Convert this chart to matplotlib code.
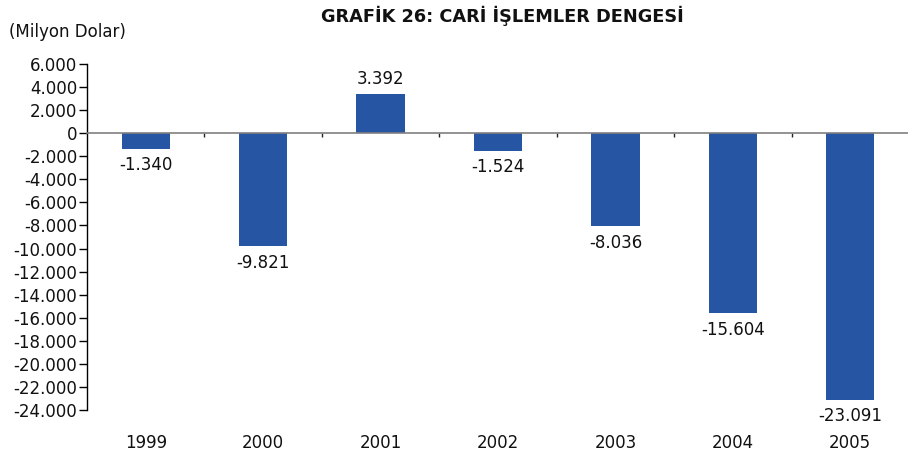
import numpy as np
import matplotlib
matplotlib.use("Agg")
import matplotlib.pyplot as plt
import matplotlib.transforms as mtransforms

# Current account balance, million USD
years = ["1999", "2000", "2001", "2002", "2003", "2004", "2005"]
balance = [-1340, -9821, 3392, -1524, -8036, -15604, -23091]
yticks = list(range(-24000, 6001, 2000))

plt.rcParams['font.family'] = ['DejaVu Sans']
FS = 12

def tr_fmt(v):
    return f"{v:,}".replace(",", ".")

fig = plt.figure(figsize=(9.08, 4.58), dpi=100)
ax = fig.add_axes([87 / 908, 1 - 410 / 458, 822 / 908, 346 / 458])

x = np.arange(len(years))
ax.bar(x, balance, width=0.41, color="#2656a3", zorder=1)

ax.set_xlim(-0.5, len(years) - 0.5)
ax.set_ylim(yticks[0], yticks[-1])
ax.set_yticks(yticks)
ax.set_yticklabels([tr_fmt(v) for v in yticks], fontsize=FS, color="#111111")
ax.tick_params(axis="y", direction="out", length=6, width=1, pad=1)

# zero line carries the category separators
ax.spines["bottom"].set_position(("data", 0))
ax.spines["bottom"].set_color("#808080")
ax.spines["bottom"].set_linewidth(1.2)
ax.spines["top"].set_visible(False)
ax.spines["right"].set_visible(False)
ax.spines["left"].set_linewidth(1)
ax.set_xticks(x[:-1] + 0.5)
ax.set_xticklabels([])
ax.tick_params(axis="x", direction="out", length=3, width=1, color="#222222")

# year labels below the plot area
trans = mtransforms.blended_transform_factory(ax.transData, ax.transAxes)
for xi, yr in zip(x, years):
    ax.text(xi, -0.095, yr, transform=trans, ha="center", va="center",
            fontsize=FS, color="#111111")

# value labels
for xi, v in zip(x, balance):
    if v >= 0:
        ax.annotate(tr_fmt(v), (xi, v), xytext=(0, 4.5), textcoords="offset points",
                    ha="center", va="bottom", fontsize=FS, color="#111111")
    else:
        ax.annotate(tr_fmt(v), (xi, v), xytext=(0, -5.5), textcoords="offset points",
                    ha="center", va="top", fontsize=FS, color="#111111")

fig.text(502 / 908, 1 - 16 / 458, "GRAFİK 26: CARİ İŞLEMLER DENGESİ",
         ha="center", va="center", fontsize=12.8, fontweight="bold", color="#111111")
fig.text(9 / 908, 1 - 32 / 458, "(Milyon Dolar)", ha="left", va="center",
         fontsize=FS, color="#111111")

fig.savefig("out.png", dpi=100)
